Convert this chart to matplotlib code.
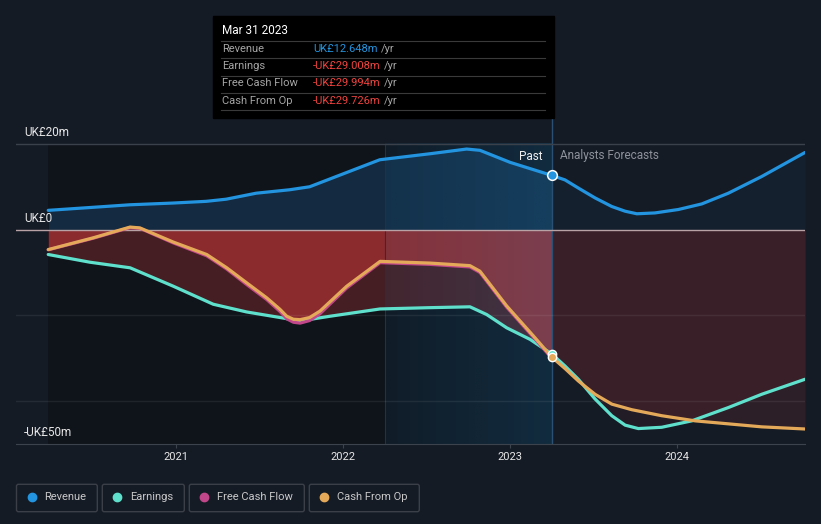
import numpy as np
import matplotlib.pyplot as plt
from matplotlib.patches import FancyBboxPatch, Rectangle
from matplotlib.colors import to_rgb

plt.rcParams["font.family"] = ["Roboto", "DejaVu Sans"]

# --- data (UK£ m), x as decimal year ---
rev_past_x = [2020.235, 2020.50, 2020.725, 2020.98, 2021.18, 2021.30, 2021.48, 2021.68, 2021.80,
              2022.00, 2022.22, 2022.52, 2022.74, 2022.82, 2023.00, 2023.25]
rev_past_y = [4.5, 5.2, 5.8, 6.2, 6.6, 7.1, 8.5, 9.3, 10.0,
              13.0, 16.3, 17.7, 18.8, 18.5, 15.7, 12.648]
rev_fc_x = [2023.25, 2023.329, 2023.409, 2023.509, 2023.609, 2023.689, 2023.759, 2023.868,
            2024.008, 2024.148, 2024.307, 2024.507, 2024.766]
rev_fc_y = [12.648, 11.6, 9.7, 7.4, 5.4, 4.3, 3.7, 3.9,
            4.7, 6.0, 8.5, 12.4, 18.0]

earn_past_x = [2020.235, 2020.485, 2020.725, 2020.984, 2021.223, 2021.423, 2021.623, 2021.743,
               2021.922, 2022.222, 2022.521, 2022.760, 2022.860, 2022.980, 2023.120, 2023.25]
earn_past_y = [-5.8, -7.6, -8.9, -13.2, -17.4, -19.2, -20.5, -21.3,
               -20.2, -18.5, -18.2, -18.0, -19.8, -22.9, -25.6, -29.008]
earn_fc_x = [2023.25, 2023.329, 2023.409, 2023.509, 2023.609, 2023.689, 2023.768, 2023.908,
             2024.088, 2024.307, 2024.507, 2024.766]
earn_fc_y = [-29.008, -31.8, -34.9, -39.5, -43.4, -45.6, -46.4, -46.1,
             -44.6, -41.5, -38.4, -34.9]

cfo_past_x = [2020.235, 2020.505, 2020.725, 2020.784, 2020.984, 2021.184, 2021.304, 2021.423, 2021.543,
              2021.623, 2021.663, 2021.703, 2021.743, 2021.800, 2021.862, 2022.022, 2022.222, 2022.521,
              2022.760, 2022.820, 2022.980, 2023.140, 2023.25]
cfo_past_y = [-4.65, -1.9, 0.6, 0.4, -2.9, -5.8, -8.9, -12.4, -15.9,
              -18.6, -20.2, -20.9, -21.0, -20.5, -19.0, -13.2, -7.4, -7.8,
              -8.4, -9.7, -17.8, -24.8, -29.726]
cfo_fc_x = [2023.25, 2023.329, 2023.409, 2023.509, 2023.609, 2023.729, 2023.908,
            2024.108, 2024.307, 2024.507, 2024.766]
cfo_fc_y = [-29.726, -32.4, -35.3, -38.4, -40.7, -42.0, -43.4,
            -44.6, -45.3, -46.0, -46.5]

fcf_past_x = cfo_past_x
fcf_past_y = [-4.7, -2.0, 0.5, 0.3, -3.1, -6.1, -9.2, -12.8, -16.3,
              -19.1, -20.8, -21.6, -21.8, -21.2, -19.6, -13.6, -7.7, -8.1,
              -8.7, -10.0, -18.1, -25.1, -29.994]

years = [2021, 2022, 2023, 2024]
past_end = 2023.25
band_start = 2022.25

c_rev = "#2394df"
c_earn = "#5fe0cc"
c_fcf = "#c1478a"
c_cfo = "#e5a95a"
c_red = "#e23c3c"
bg = "#151b25"

W, H = 821, 524
fig = plt.figure(figsize=(W / 100, H / 100), dpi=100, facecolor=bg)
ax = fig.add_axes([16 / W, 1 - 444 / H, (805 - 16) / W, (444 - 112) / H])
ax.set_facecolor(bg)

# darker past area
ax.fill_between([rev_past_x[0], past_end], -50, 20, color="black", alpha=0.25, lw=0, zorder=0)

# area fills
ax.fill_between(rev_past_x, 0, rev_past_y, color="#1f6fb2", alpha=0.25, lw=0, zorder=1)
ax.fill_between(rev_fc_x, 0, rev_fc_y, color="#1f6fb2", alpha=0.07, lw=0, zorder=1)
ax.fill_between(earn_past_x, 0, earn_past_y, color=c_red, alpha=0.26, lw=0, zorder=1)
ax.fill_between(cfo_past_x, 0, cfo_past_y, color=c_red, alpha=0.45, lw=0, zorder=1)
ax.fill_between(earn_fc_x, 0, earn_fc_y, color=c_red, alpha=0.06, lw=0, zorder=1)
ax.fill_between(cfo_fc_x, 0, cfo_fc_y, color=c_red, alpha=0.12, lw=0, zorder=1)

# highlighted last year, fading in from the left
grad = np.zeros((2, 64, 4))
grad[..., :3] = to_rgb("#21aaff")
grad[..., 3] = np.linspace(0.06, 0.16, 64)
ax.imshow(grad, extent=[band_start, past_end, -50, 20], aspect="auto",
          interpolation="bilinear", zorder=2)
ax.plot([band_start, band_start], [-50, 20], color="#1d3348", lw=0.8, zorder=2)
ax.axvline(past_end, color="#2a5173", lw=1, zorder=2)
ax.set_xlim(2020.042, 2024.766)
ax.set_ylim(-50, 27.44)

# grid
ax.axhline(20, color="#3b414b", lw=1, zorder=2)
for g in [-20, -40]:
    ax.axhline(g, color="white", alpha=0.07, lw=1, zorder=2)
ax.axhline(0, color="#b8a2a6", lw=1, zorder=2)

# lines
lw = 2.3
kw = dict(lw=lw, solid_capstyle="round", solid_joinstyle="round")
ax.plot(rev_past_x, rev_past_y, color=c_rev, zorder=4, **kw)
ax.plot(rev_fc_x, rev_fc_y, color=c_rev, zorder=4, **kw)
ax.plot(earn_past_x, earn_past_y, color=c_earn, zorder=4, **kw)
ax.plot(earn_fc_x, earn_fc_y, color=c_earn, zorder=4, **kw)
ax.plot(fcf_past_x, fcf_past_y, color=c_fcf, zorder=5, **kw)
ax.plot(cfo_past_x, cfo_past_y, color=c_cfo, zorder=6, **kw)
ax.plot(cfo_fc_x, cfo_fc_y, color=c_cfo, zorder=6, **kw)

ax.plot(past_end, rev_past_y[-1], "o", ms=7, mfc=c_rev, mec="white", mew=1.1, zorder=7)
ax.plot(past_end, earn_past_y[-1], "o", ms=6, mfc=c_earn, mec="white", mew=1.0, zorder=7)
ax.plot(past_end, cfo_past_y[-1], "o", ms=6, mfc=c_cfo, mec="white", mew=1.0, zorder=8)

for s in ["top", "right", "left"]:
    ax.spines[s].set_visible(False)
ax.spines["bottom"].set_color("#3d434d")
ax.set_yticks([])
ax.set_xticks(years)
ax.set_xticklabels([str(y) for y in years])
ax.tick_params(axis="x", colors="#3d434d", length=3, pad=3, labelcolor="#e6e6e6", labelsize=8)

# overlay in pixel coordinates
ov = fig.add_axes([0, 0, 1, 1], zorder=10)
ov.set_xlim(0, W)
ov.set_ylim(H, 0)
ov.axis("off")
ov.patch.set_alpha(0)

ov.text(24, 132, "UK£20m", color="#e6e6e6", fontsize=8.5, va="center", ha="left")
ov.text(24, 218, "UK£0", color="#e6e6e6", fontsize=8.5, va="center", ha="left")
ov.text(24, 432, "-UK£50m", color="#e6e6e6", fontsize=8.5, va="center", ha="left")
ov.text(543, 156, "Past", color="#f0f0f0", fontsize=8.5, va="center", ha="right")
ov.text(560, 156, "Analysts Forecasts", color="#8d929b", fontsize=8.5, va="center", ha="left")

# tooltip
ov.add_patch(Rectangle((213, 16), 341, 102, color="black", zorder=1))
ov.text(222, 31, "Mar 31 2023", color="white", fontsize=8.5, va="center", ha="left", zorder=2)
for yy in [41, 58, 75.5, 92.5, 110]:
    ov.plot([221, 545], [yy, yy], color="#3a3a3a", lw=0.8, zorder=2)
tip_labels = ["Revenue", "Earnings", "Free Cash Flow", "Cash From Op"]
tip_values = ["UK£12.648m", "-UK£29.008m", "-UK£29.994m", "-UK£29.726m"]
tip_colors = [c_rev, "#f0433f", "#f0433f", "#f0433f"]
tip_y = [48.5, 66, 83.5, 101]
vals = []
for lab, val, col, yy in zip(tip_labels, tip_values, tip_colors, tip_y):
    ov.text(222, yy, lab, color="#a5a5a5", fontsize=8, va="center", ha="left", zorder=2)
    vals.append(ov.text(313, yy, val, color=col, fontsize=8, va="center", ha="left", zorder=2))
fig.canvas.draw()
for t, yy in zip(vals, tip_y):
    x1 = t.get_window_extent().x1
    ov.text(x1 + 3, yy, "/yr", color="#a5a5a5", fontsize=8, va="center", ha="left", zorder=2)

# legend
leg_names = ["Revenue", "Earnings", "Free Cash Flow", "Cash From Op"]
leg_colors = [c_rev, c_earn, c_fcf, c_cfo]
leg_box = [(16.5, 97.3), (102.3, 184.3), (189.3, 304.3), (309.3, 419.3)]
for name, col, (x0, x1) in zip(leg_names, leg_colors, leg_box):
    ov.add_patch(FancyBboxPatch((x0, 484.3), x1 - x0, 27.4,
                                boxstyle="round,pad=0,rounding_size=2",
                                fc="none", ec="#3a3f48", lw=1))
    ov.plot(x0 + 15, 496.5, "o", ms=6, color=col)
    ov.text(x0 + 27.5, 496.5, name, color="#c8c8c8", fontsize=8, va="center", ha="left")

fig.savefig("out.png", dpi=100, facecolor=bg)
